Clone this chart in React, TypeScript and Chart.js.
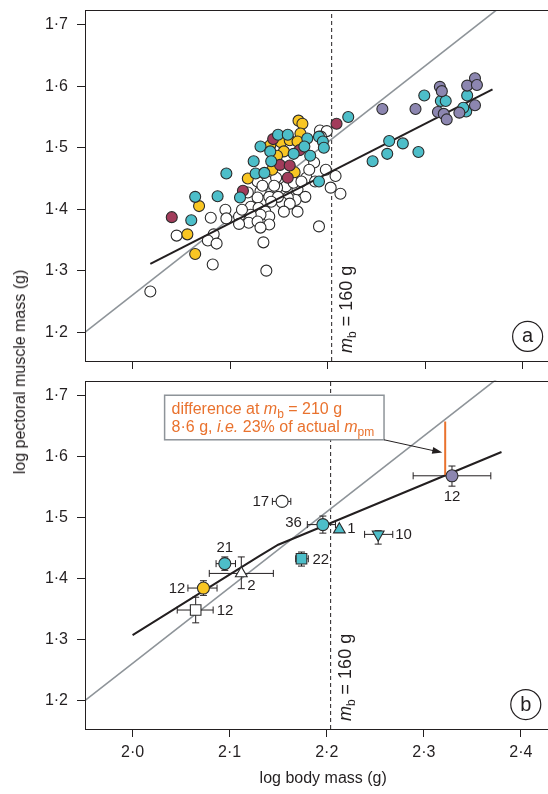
import React, { useEffect, useRef } from 'react';
import { Chart, registerables } from 'chart.js';
Chart.register(...registerables);

const FONT = '"Liberation Sans", Arial, Helvetica, sans-serif';
const INK = '#231f20';
const TEAL = '#4dbec9';
const YELLOW = '#f9c623';
const MAROON = '#a23c5b';
const PURPLE = '#8c86b0';
const WHITE = '#ffffff';
const GREY = '#8e9499';
const ORANGE = '#e9722e';
const EDGE = '#2b2b2b';

// axes
const X_MIN = 1.951;
const X_MAX = 2.4417;
const Y_MIN = 1.153;
const Y_MAX = 1.724;
const X_TICKS = [2.0, 2.1, 2.2, 2.3, 2.4];
const Y_TICKS = [1.2, 1.3, 1.4, 1.5, 1.6, 1.7];
const MB_160 = 2.204; // log10(160 g)
const MB_210 = 2.322; // log10(210 g)
const MB_LABEL_Y = 1.166;
const TAG_X = 2.405;
const TAG_Y = 1.193;

// panel (a): individual birds
const whiteX = [2.192, 2.199, 2.193, 2.198, 2.208, 2.203, 2.213, 2.186, 2.178, 2.187, 2.169, 2.177, 2.167, 2.159, 2.153, 2.161, 2.169, 2.157, 2.148, 2.138, 2.128, 2.131, 2.140, 2.149, 2.142, 2.128, 2.121, 2.129, 2.136, 2.140, 2.131, 2.121, 2.109, 2.119, 2.128, 2.140, 2.131, 2.109, 2.095, 2.080, 2.096, 2.083, 2.077, 2.086, 2.045, 2.082, 2.134, 2.137, 2.191, 2.018, 2.118, 2.112, 2.147, 2.133, 2.165, 2.181, 2.173, 2.155, 2.145];
const whiteY = [1.528, 1.527, 1.518, 1.464, 1.454, 1.435, 1.425, 1.476, 1.451, 1.445, 1.432, 1.420, 1.415, 1.419, 1.411, 1.409, 1.396, 1.437, 1.435, 1.445, 1.445, 1.429, 1.420, 1.420, 1.412, 1.419, 1.404, 1.402, 1.396, 1.388, 1.391, 1.391, 1.388, 1.378, 1.380, 1.375, 1.370, 1.376, 1.399, 1.386, 1.385, 1.359, 1.349, 1.344, 1.357, 1.310, 1.346, 1.300, 1.372, 1.266, 1.427, 1.399, 1.451, 1.438, 1.443, 1.464, 1.445, 1.396, 1.438];

const tealX = [2.221, 2.299, 2.316, 2.321, 2.343, 2.342, 2.339, 2.263, 2.277, 2.261, 2.293, 2.246, 2.149, 2.159, 2.179, 2.191, 2.195, 2.196, 2.131, 2.141, 2.176, 2.165, 2.182, 2.124, 2.142, 2.126, 2.135, 2.096, 2.110, 2.191, 2.064, 2.087, 2.060];
const tealY = [1.550, 1.585, 1.576, 1.576, 1.585, 1.559, 1.565, 1.511, 1.507, 1.490, 1.493, 1.478, 1.521, 1.521, 1.515, 1.518, 1.510, 1.500, 1.502, 1.494, 1.502, 1.490, 1.487, 1.478, 1.478, 1.458, 1.459, 1.458, 1.419, 1.445, 1.420, 1.421, 1.382];

const yellowX = [2.170, 2.174, 2.152, 2.161, 2.172, 2.169, 2.141, 2.155, 2.148, 2.143, 2.166, 2.118, 2.068, 2.056, 2.064];
const yellowY = [1.544, 1.539, 1.509, 1.512, 1.523, 1.510, 1.504, 1.494, 1.487, 1.464, 1.460, 1.450, 1.405, 1.359, 1.327];

const maroonX = [2.209, 2.144, 2.171, 2.151, 2.161, 2.159, 2.113, 2.040];
const maroonY = [1.539, 1.514, 1.496, 1.472, 1.471, 1.451, 1.430, 1.387];

const purpleX = [2.256, 2.290, 2.315, 2.317, 2.313, 2.319, 2.322, 2.351, 2.343, 2.353, 2.351, 2.335];
const purpleY = [1.563, 1.563, 1.599, 1.592, 1.558, 1.555, 1.546, 1.613, 1.601, 1.602, 1.569, 1.557];

// reference (isometric) line and fitted lines
const isoX = [1.940, 2.390];
const isoY = [1.186, 1.745];
const fitAX = [2.018, 2.369];
const fitAY = [1.311, 1.595];
const fitBX = [2.000, 2.130, 2.150, 2.170, 2.380];
const fitBY = [1.307, 1.436, 1.455, 1.468, 1.607];

// panel (b): group means with error bars
const meanX = [2.329, 2.154, 2.196, 2.213, 2.253, 2.174, 2.095, 2.112, 2.073, 2.065];
const meanY = [1.568, 1.526, 1.488, 1.480, 1.472, 1.432, 1.424, 1.408, 1.384, 1.348];
const xLo = [2.289, 2.144, 2.180, null, 2.239, 2.168, 2.086, 2.079, 2.057, 2.046];
const xHi = [2.369, 2.163, 2.209, null, 2.268, 2.181, 2.106, 2.145, 2.087, 2.083];
const yLo = [1.551, null, 1.474, null, 1.456, 1.420, 1.413, 1.383, 1.372, 1.327];
const yHi = [1.584, null, 1.502, null, 1.478, 1.443, 1.435, 1.435, 1.396, 1.369];
const nLabels = ['12', '17', '36', '1', '10', '22', '21', '2', '12', '12'];
const groupColors = [PURPLE, WHITE, TEAL, TEAL, TEAL, TEAL, TEAL, WHITE, YELLOW, WHITE];
const groupShapes = ['circle', 'circle', 'circle', 'up', 'down', 'square', 'circle', 'up', 'circle', 'square'];
// label placement (pixel offsets from marker centre)
const labelPlace = [
  { dx: 0, dy: 21, align: 'center' },
  { dx: -13, dy: 0, align: 'right' },
  { dx: -21, dy: -2, align: 'right' },
  { dx: 8, dy: -1, align: 'left' },
  { dx: 17, dy: 0, align: 'left' },
  { dx: 11, dy: 1, align: 'left' },
  { dx: 0, dy: -16, align: 'center' },
  { dx: 6, dy: 12, align: 'left' },
  { dx: -18, dy: 0, align: 'right' },
  { dx: 21, dy: 0, align: 'left' },
];

// annotation (panel b)
const diffTop = 1.657;
const diffBottom = 1.569;
const BOX_X0 = 2.033;
const BOX_X1 = 2.259;
const BOX_Y0 = 1.700;
const BOX_Y1 = 1.627;
const ARROW_X = 2.319;
const ARROW_Y = 1.606;

const fmt = (v: number) => v.toFixed(1).replace('.', '\u00b7');
const pts = (xs: number[], ys: number[]) => xs.map((x, i) => ({ x, y: ys[i] }));

function scalesFor(showXLabels: boolean, xAxisHeight: number) {
  const tickFont = { family: FONT, size: 16 };
  return {
    x: {
      type: 'linear',
      min: X_MIN,
      max: X_MAX,
      afterBuildTicks: (s: any) => { s.ticks = X_TICKS.map((v) => ({ value: v })); },
      afterFit: (s: any) => { s.height = xAxisHeight; s.paddingLeft = 0; s.paddingRight = 0; },
      grid: { drawOnChartArea: false, drawTicks: true, tickLength: 8, tickColor: INK, tickWidth: 1 },
      border: { display: false },
      ticks: {
        display: showXLabels,
        padding: 6,
        color: INK,
        font: tickFont,
        maxRotation: 0,
        autoSkip: false,
        callback: (v: any) => fmt(Number(v)),
      },
      title: showXLabels
        ? { display: true, text: 'log body mass (g)', color: INK, font: tickFont, padding: { top: 0, bottom: 6 } }
        : { display: false },
    },
    y: {
      type: 'linear',
      min: Y_MIN,
      max: Y_MAX,
      afterBuildTicks: (s: any) => { s.ticks = Y_TICKS.map((v) => ({ value: v })); },
      afterFit: (s: any) => { s.width = 85; s.paddingTop = 0; s.paddingBottom = 0; },
      grid: { drawOnChartArea: false, drawTicks: true, tickLength: 8, tickColor: INK, tickWidth: 1 },
      border: { display: false },
      ticks: { padding: 9, color: INK, font: tickFont, callback: (v: any) => fmt(Number(v)) },
    },
  };
}

function lineSet(xs: number[], ys: number[], color: string, width: number, dash: number[] = []) {
  return {
    data: pts(xs, ys),
    showLine: true,
    borderColor: color,
    borderWidth: width,
    borderDash: dash,
    pointRadius: 0,
    fill: false,
    tension: 0,
  };
}

function dotSet(xs: number[], ys: number[], color: string) {
  return {
    data: pts(xs, ys),
    showLine: false,
    pointRadius: 5.5,
    pointBackgroundColor: color,
    pointBorderColor: EDGE,
    pointBorderWidth: 1.1,
  };
}

function drawFrame(chart: any) {
  const { ctx, chartArea } = chart;
  ctx.save();
  ctx.strokeStyle = INK;
  ctx.lineWidth = 1;
  ctx.strokeRect(Math.round(chartArea.left) + 0.5, Math.round(chartArea.top) + 0.5,
    Math.round(chartArea.right - chartArea.left), Math.round(chartArea.bottom - chartArea.top));
  ctx.restore();
}

function drawMbLabel(chart: any) {
  const { ctx } = chart;
  const x = chart.scales.x.getPixelForValue(MB_160) + 20;
  const y = chart.scales.y.getPixelForValue(MB_LABEL_Y);
  ctx.save();
  ctx.translate(x, y);
  ctx.rotate(-Math.PI / 2);
  ctx.fillStyle = INK;
  ctx.textBaseline = 'alphabetic';
  ctx.textAlign = 'left';
  let cx = 0;
  ctx.font = `italic 18px ${FONT}`;
  ctx.fillText('m', cx, 0);
  cx += ctx.measureText('m').width;
  ctx.font = `12px ${FONT}`;
  ctx.fillText('b', cx, 4);
  cx += ctx.measureText('b').width;
  ctx.font = `18px ${FONT}`;
  ctx.fillText(' = 160 g', cx, 0);
  ctx.restore();
}

function drawTag(chart: any, letter: string) {
  const { ctx } = chart;
  const x = chart.scales.x.getPixelForValue(TAG_X);
  const y = chart.scales.y.getPixelForValue(TAG_Y);
  ctx.save();
  ctx.beginPath();
  ctx.arc(x, y, 15, 0, Math.PI * 2);
  ctx.fillStyle = '#fff';
  ctx.fill();
  ctx.strokeStyle = INK;
  ctx.lineWidth = 1.2;
  ctx.stroke();
  ctx.fillStyle = INK;
  ctx.font = `20px ${FONT}`;
  ctx.textAlign = 'center';
  ctx.textBaseline = 'middle';
  ctx.fillText(letter, x, y + 0.5);
  ctx.restore();
}

function drawRuns(ctx: any, runs: any[], x0: number, y0: number, color: string) {
  let cx = x0;
  ctx.fillStyle = color;
  ctx.textAlign = 'left';
  ctx.textBaseline = 'alphabetic';
  for (const r of runs) {
    ctx.font = `${r.italic ? 'italic ' : ''}${r.sub ? 12 : 16}px ${FONT}`;
    ctx.fillText(r.t, cx, y0 + (r.sub ? 4 : 0));
    cx += ctx.measureText(r.t).width;
  }
}

function drawAnnotation(chart: any) {
  const { ctx } = chart;
  const xs = chart.scales.x;
  const ys = chart.scales.y;
  const l = xs.getPixelForValue(BOX_X0);
  const r = xs.getPixelForValue(BOX_X1);
  const t = ys.getPixelForValue(BOX_Y0);
  const b = ys.getPixelForValue(BOX_Y1);
  ctx.save();
  ctx.fillStyle = '#fff';
  ctx.fillRect(l, t, r - l, b - t);
  ctx.strokeStyle = GREY;
  ctx.lineWidth = 1.5;
  ctx.strokeRect(l, t, r - l, b - t);
  drawRuns(ctx, [
    { t: 'difference at ' },
    { t: 'm', italic: true },
    { t: 'b', sub: true },
    { t: ' = 210 g' },
  ], l + 7, t + 19, ORANGE);
  drawRuns(ctx, [
    { t: '8\u00b76 g, ' },
    { t: 'i.e.', italic: true },
    { t: ' 23% of actual ' },
    { t: 'm', italic: true },
    { t: 'pm', sub: true },
  ], l + 7, t + 37, ORANGE);
  // arrow
  const ax = xs.getPixelForValue(ARROW_X);
  const ay = ys.getPixelForValue(ARROW_Y);
  const ang = Math.atan2(ay - b, ax - r);
  ctx.strokeStyle = INK;
  ctx.lineWidth = 1;
  ctx.beginPath();
  ctx.moveTo(r, b);
  ctx.lineTo(ax - 8 * Math.cos(ang), ay - 8 * Math.sin(ang));
  ctx.stroke();
  ctx.fillStyle = INK;
  ctx.beginPath();
  ctx.moveTo(ax, ay);
  ctx.lineTo(ax - 10 * Math.cos(ang) + 3.5 * Math.sin(ang), ay - 10 * Math.sin(ang) - 3.5 * Math.cos(ang));
  ctx.lineTo(ax - 10 * Math.cos(ang) - 3.5 * Math.sin(ang), ay - 10 * Math.sin(ang) + 3.5 * Math.cos(ang));
  ctx.closePath();
  ctx.fill();
  ctx.restore();
}

function drawErrorBars(chart: any) {
  const { ctx } = chart;
  const xs = chart.scales.x;
  const ys = chart.scales.y;
  const cap = 3.5;
  ctx.save();
  ctx.strokeStyle = INK;
  ctx.lineWidth = 1;
  meanX.forEach((mx, i) => {
    const px = xs.getPixelForValue(mx);
    const py = ys.getPixelForValue(meanY[i]);
    ctx.beginPath();
    if (xLo[i] != null && xHi[i] != null) {
      const a = xs.getPixelForValue(xLo[i] as number);
      const c = xs.getPixelForValue(xHi[i] as number);
      ctx.moveTo(a, py); ctx.lineTo(c, py);
      ctx.moveTo(a, py - cap); ctx.lineTo(a, py + cap);
      ctx.moveTo(c, py - cap); ctx.lineTo(c, py + cap);
    }
    if (yLo[i] != null && yHi[i] != null) {
      const a = ys.getPixelForValue(yLo[i] as number);
      const c = ys.getPixelForValue(yHi[i] as number);
      ctx.moveTo(px, a); ctx.lineTo(px, c);
      ctx.moveTo(px - cap, a); ctx.lineTo(px + cap, a);
      ctx.moveTo(px - cap, c); ctx.lineTo(px + cap, c);
    }
    ctx.stroke();
  });
  ctx.restore();
}

function drawPointLabels(chart: any) {
  const { ctx } = chart;
  const xs = chart.scales.x;
  const ys = chart.scales.y;
  ctx.save();
  ctx.fillStyle = INK;
  ctx.font = `15px ${FONT}`;
  ctx.textBaseline = 'middle';
  nLabels.forEach((lab, i) => {
    const p = labelPlace[i];
    ctx.textAlign = p.align;
    ctx.fillText(lab, xs.getPixelForValue(meanX[i]) + p.dx, ys.getPixelForValue(meanY[i]) + p.dy + 0.5);
  });
  ctx.restore();
}

const shapeStyle = (s: string) => (s === 'square' ? 'rect' : s === 'up' || s === 'down' ? 'triangle' : 'circle');
const shapeRadius = (s: string) => (s === 'square' ? 7.5 : s === 'up' || s === 'down' ? 6.8 : 6);

export default function App() {
  const topRef = useRef<HTMLCanvasElement>(null);
  const botRef = useRef<HTMLCanvasElement>(null);

  useEffect(() => {
    const common = {
      responsive: false,
      animation: false,
      events: [],
      plugins: { legend: { display: false }, tooltip: { enabled: false } },
    };

    const top = new Chart(topRef.current as HTMLCanvasElement, {
      type: 'scatter',
      data: {
        datasets: [
          dotSet(purpleX, purpleY, PURPLE),
          dotSet(tealX, tealY, TEAL),
          dotSet(maroonX, maroonY, MAROON),
          dotSet(yellowX, yellowY, YELLOW),
          lineSet(fitAX, fitAY, INK, 2),
          dotSet(whiteX, whiteY, WHITE),
          lineSet(isoX, isoY, GREY, 1.6),
          lineSet([MB_160, MB_160], [Y_MIN, Y_MAX], INK, 1, [4, 3]),
        ] as any,
      },
      options: {
        ...common,
        layout: { padding: { top: 10, left: 0, right: 0, bottom: 0 } },
        scales: scalesFor(false, 11) as any,
      } as any,
      plugins: [
        {
          id: 'panelA',
          afterDatasetsDraw(chart: any) {
            drawFrame(chart);
            drawMbLabel(chart);
            drawTag(chart, 'a');
          },
        },
      ],
    });

    const bottom = new Chart(botRef.current as HTMLCanvasElement, {
      type: 'scatter',
      data: {
        datasets: [
          {
            data: pts(meanX, meanY),
            showLine: false,
            pointStyle: groupShapes.map(shapeStyle),
            pointRadius: groupShapes.map(shapeRadius),
            pointRotation: groupShapes.map((s) => (s === 'down' ? 180 : 0)),
            pointBackgroundColor: groupColors,
            pointBorderColor: EDGE,
            pointBorderWidth: 1.1,
          },
          lineSet([MB_210, MB_210], [diffBottom, diffTop], ORANGE, 2),
          lineSet(fitBX, fitBY, INK, 2),
          lineSet(isoX, isoY, GREY, 1.6),
          lineSet([MB_160, MB_160], [Y_MIN, Y_MAX], INK, 1, [4, 3]),
        ] as any,
      },
      options: {
        ...common,
        layout: { padding: { top: 6, left: 0, right: 0, bottom: 0 } },
        scales: scalesFor(true, 65) as any,
      } as any,
      plugins: [
        {
          id: 'panelB',
          beforeDatasetDraw(chart: any, args: any) {
            if (args.index === 0) drawErrorBars(chart);
          },
          afterDatasetsDraw(chart: any) {
            drawFrame(chart);
            drawMbLabel(chart);
            drawTag(chart, 'b');
            drawAnnotation(chart);
            drawPointLabels(chart);
          },
        },
      ],
    });

    return () => {
      top.destroy();
      bottom.destroy();
    };
  }, []);

  return (
    <div style={{ position: 'absolute', left: 0, top: 0, width: 548, height: 794, overflow: 'hidden', background: '#fff' }}>
      <canvas ref={topRef} width={570} height={372} style={{ position: 'absolute', left: 0, top: 0, display: 'block' }} />
      <canvas ref={botRef} width={570} height={422} style={{ position: 'absolute', left: 0, top: 372, display: 'block' }} />
      <div
        style={{
          position: 'absolute',
          left: 20,
          top: 372,
          transform: 'translate(-50%, -50%) rotate(-90deg)',
          whiteSpace: 'nowrap',
          fontFamily: FONT,
          fontSize: 16,
          color: INK,
          lineHeight: 1,
        }}
      >
        log pectoral muscle mass (g)
      </div>
    </div>
  );
}
